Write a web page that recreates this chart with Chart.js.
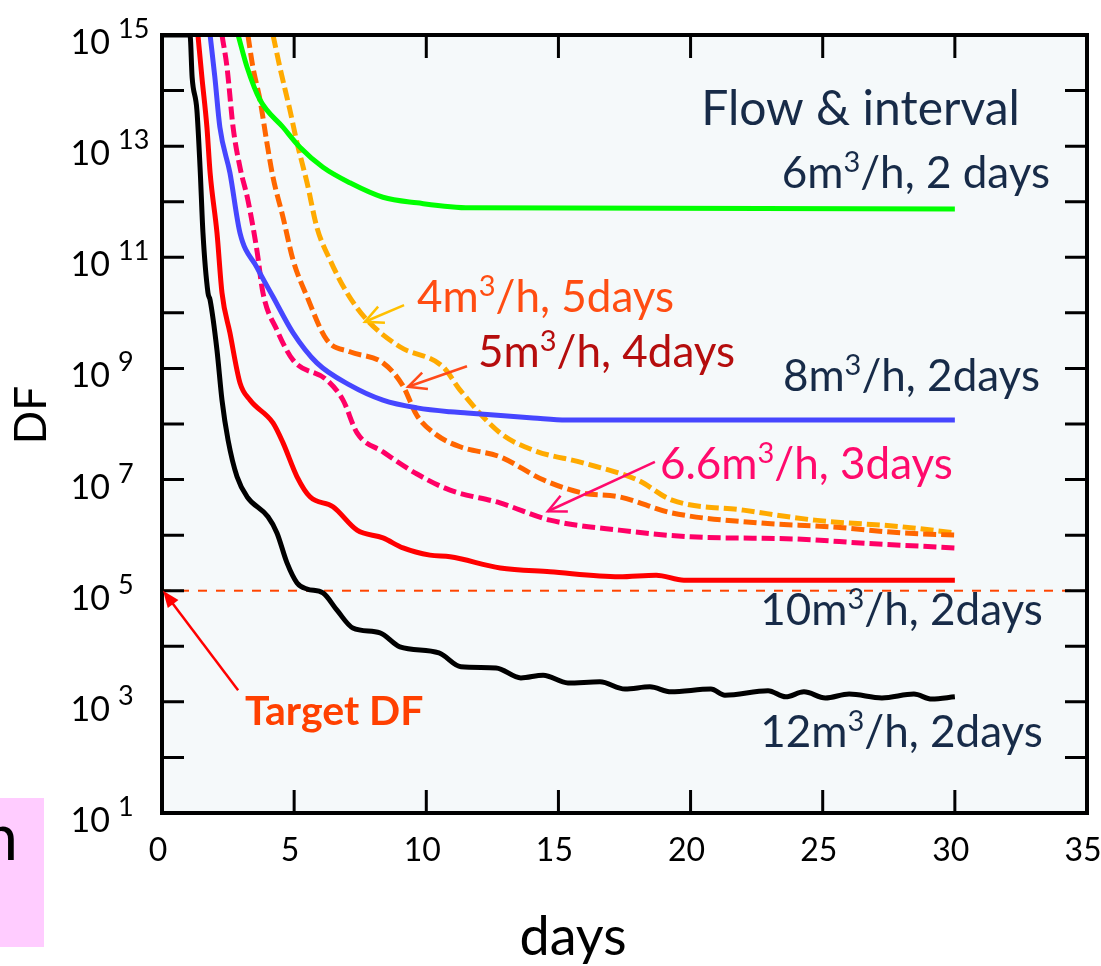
<!DOCTYPE html>
<html>
<head>
<meta charset="utf-8">
<script src="https://cdn.jsdelivr.net/npm/chart.js@4.4.1/dist/chart.umd.min.js"></script>
<style>
  html, body { margin: 0; padding: 0; background: #fff; }
  #wrap { width: 1101px; height: 966px; }
</style>
</head>
<body>
<div id="wrap"><canvas id="dfChart"></canvas></div>
<script>
// curves: days and log10(DF)
const days12 = [0, 1.06, 1.14, 1.32, 1.44, 1.55, 1.74, 1.82, 2.08, 2.27, 2.5, 2.84, 3.22, 4.01, 4.35, 4.73, 5.11, 5.49, 6.09, 6.62, 7.22, 8.25, 9.0, 10.48, 11.31, 12.64, 13.58, 14.42, 15.36, 16.57, 17.52, 18.46, 19.26, 20.77, 21.3, 22.93, 23.6, 24.29, 25.1, 26.0, 27.24, 28.45, 29.13, 30];
const logDF12 = [15, 15, 14.24, 13.65, 12.62, 11.44, 10.36, 10.23, 9.33, 8.43, 7.71, 7.05, 6.69, 6.33, 6.04, 5.5, 5.14, 5.03, 4.96, 4.65, 4.33, 4.24, 3.99, 3.88, 3.63, 3.61, 3.43, 3.48, 3.34, 3.36, 3.23, 3.27, 3.18, 3.23, 3.12, 3.2, 3.09, 3.18, 3.07, 3.14, 3.07, 3.14, 3.05, 3.09];

const days10 = [1.36, 1.51, 1.7, 1.82, 2.08, 2.27, 2.57, 2.95, 3.33, 4.2, 4.58, 5.11, 5.6, 6.47, 7.38, 8.36, 9.12, 10.14, 10.9, 12.8, 14.68, 17.3, 18.7, 19.75, 30];
const logDF10 = [15, 14.24, 13.34, 12.52, 11.44, 10.36, 9.64, 8.74, 8.43, 8.02, 7.66, 7.05, 6.69, 6.51, 6.09, 5.95, 5.77, 5.64, 5.61, 5.41, 5.34, 5.25, 5.28, 5.19, 5.19];

const days8 = [1.82, 2.0, 2.19, 2.57, 2.95, 3.59, 4.2, 4.96, 5.86, 7.11, 8.36, 9.65, 10.9, 11.54, 14.04, 15.3, 30];
const logDF8 = [15, 14.24, 13.34, 12.52, 11.44, 10.82, 10.29, 9.64, 9.1, 8.7, 8.43, 8.29, 8.22, 8.2, 8.11, 8.07, 8.07];

const days6 = [2.88, 3.22, 3.71, 4.58, 5.22, 6.09, 7.11, 8.36, 9.65, 11.65, 30];
const logDF6 = [15, 14.42, 13.83, 13.34, 12.98, 12.62, 12.34, 12.08, 11.98, 11.89, 11.87];

const days66 = [2.27, 2.46, 2.69, 2.95, 3.25, 3.59, 3.82, 4.35, 4.96, 6.24, 6.85, 7.38, 8.36, 9.65, 10.9, 12.79, 14.68, 17.3, 20.0, 24.0, 26.7, 30];
const logDF66 = [15, 14.42, 13.34, 12.62, 12.03, 11.13, 10.36, 9.69, 9.15, 8.79, 8.43, 7.84, 7.5, 7.1, 6.81, 6.58, 6.27, 6.09, 5.97, 5.93, 5.85, 5.77];

const days5 = [3.25, 3.44, 3.71, 3.97, 4.2, 4.58, 4.96, 5.49, 6.24, 7.11, 8.36, 9.1, 9.65, 10.4, 11.28, 12.79, 14.4, 15.9, 17.3, 19.3, 22.6, 25.3, 28.0, 30];
const logDF5 = [15, 14.42, 13.83, 13.06, 12.44, 11.72, 10.95, 10.29, 9.51, 9.3, 9.1, 8.7, 8.15, 7.8, 7.59, 7.41, 7.0, 6.76, 6.69, 6.4, 6.22, 6.15, 6.04, 6.0];

const days4 = [4.2, 4.46, 4.84, 5.11, 5.49, 5.86, 6.36, 7.0, 7.76, 9.0, 10.63, 11.28, 12.79, 14.04, 15.93, 18.0, 19.3, 22.0, 24.7, 28.0, 30];
const logDF4 = [15, 14.42, 13.65, 13.06, 12.34, 11.54, 10.95, 10.36, 9.87, 9.39, 9.03, 8.61, 7.84, 7.53, 7.3, 6.99, 6.63, 6.45, 6.27, 6.15, 6.04];

const targetDays = [0, 35];
const targetLogDF = [5, 5];

// axis ticks
const xTickDays = [0, 5, 10, 15, 20, 25, 30, 35];
const yTickExps = [1, 2, 3, 4, 5, 6, 7, 8, 9, 10, 11, 12, 13, 14, 15];
const yLabelExps = [1, 3, 5, 7, 9, 11, 13, 15];

const FONT = 'Lato, "Open Sans", sans-serif';
const NAVY = '#172b48';

function pts(xs, ys) {
  return xs.map((d, i) => ({ x: d, y: Math.pow(10, ys[i]) }));
}

// text where '^' raises the following character
function richText(ctx, str, x, y, size, color, align, weight) {
  const parts = [];
  for (let i = 0; i < str.length; i++) {
    if (str[i] === '^') { parts.push({ t: str[i + 1], sup: true }); i++; }
    else if (parts.length && !parts[parts.length - 1].sup) parts[parts.length - 1].t += str[i];
    else parts.push({ t: str[i], sup: false });
  }
  const w = weight || 'normal';
  const baseFont = `${w} ${size}px ${FONT}`;
  const supFont = `${w} ${Math.round(size * 0.66)}px ${FONT}`;
  let total = 0;
  parts.forEach(p => { ctx.font = p.sup ? supFont : baseFont; p.w = ctx.measureText(p.t).width; total += p.w; });
  let cx = align === 'right' ? x - total : x;
  ctx.fillStyle = color;
  ctx.textAlign = 'left';
  ctx.textBaseline = 'alphabetic';
  parts.forEach(p => {
    ctx.font = p.sup ? supFont : baseFont;
    ctx.fillText(p.t, cx, p.sup ? y - size * 0.36 : y);
    cx += p.w;
  });
}

function arrow(ctx, x1, y1, x2, y2, color, width, filled) {
  const ang = Math.atan2(y2 - y1, x2 - x1);
  const len = filled ? 18 : 20;
  const spread = filled ? 0.38 : 0.45;
  ctx.strokeStyle = color;
  ctx.fillStyle = color;
  ctx.lineWidth = width;
  ctx.beginPath();
  ctx.moveTo(x1, y1);
  ctx.lineTo(filled ? x2 - Math.cos(ang) * len * 0.8 : x2, filled ? y2 - Math.sin(ang) * len * 0.8 : y2);
  ctx.stroke();
  const ax = x2 - Math.cos(ang - spread) * len, ay = y2 - Math.sin(ang - spread) * len;
  const bx = x2 - Math.cos(ang + spread) * len, by = y2 - Math.sin(ang + spread) * len;
  ctx.beginPath();
  if (filled) {
    ctx.moveTo(x2, y2); ctx.lineTo(ax, ay); ctx.lineTo(bx, by); ctx.closePath(); ctx.fill();
  } else {
    ctx.moveTo(ax, ay); ctx.lineTo(x2, y2); ctx.lineTo(bx, by); ctx.stroke();
  }
}

const figurePlugin = {
  id: 'figure',
  beforeDraw(chart) {
    const { ctx, chartArea: a } = chart;
    ctx.save();
    ctx.fillStyle = '#ffffff';
    ctx.fillRect(0, 0, chart.width, chart.height);
    ctx.fillStyle = '#f5f9fa';
    ctx.fillRect(a.left, a.top, a.right - a.left, a.bottom - a.top);
    // bit of the slide peeking in at the bottom left
    ctx.fillStyle = '#ffccff';
    ctx.fillRect(0, 798, 44, 149);
    ctx.fillStyle = '#000';
    ctx.font = `64px ${FONT}`;
    ctx.textAlign = 'right';
    ctx.textBaseline = 'alphabetic';
    ctx.fillText('n', 18, 860);
    ctx.restore();
  },
  afterDatasetsDraw(chart, args, opts) {
    const { ctx, chartArea: a, scales: { x, y } } = chart;
    const px = d => x.getPixelForValue(d);
    const py = e => y.getPixelForValue(Math.pow(10, e));
    ctx.save();

    // frame and inward ticks
    ctx.strokeStyle = '#000';
    ctx.lineWidth = 3;
    yTickExps.forEach(e => {
      if (e === 1 || e === 15) return;
      const yy = py(e);
      ctx.beginPath();
      ctx.moveTo(a.left, yy); ctx.lineTo(a.left + 22, yy);
      ctx.moveTo(a.right, yy); ctx.lineTo(a.right - 22, yy);
      ctx.stroke();
    });
    xTickDays.forEach(d => {
      if (d === 0 || d === 35) return;
      const xx = px(d);
      ctx.beginPath();
      ctx.moveTo(xx, a.bottom); ctx.lineTo(xx, a.bottom - 23);
      ctx.moveTo(xx, a.top); ctx.lineTo(xx, a.top + 23);
      ctx.stroke();
    });
    ctx.lineWidth = 4;
    ctx.strokeRect(a.left, a.top, a.right - a.left, a.bottom - a.top);

    // y tick labels 10^n
    yLabelExps.forEach(e => {
      const yy = py(e);
      ctx.fillStyle = '#000';
      ctx.textBaseline = 'alphabetic';
      ctx.font = `34px ${FONT}`;
      ctx.textAlign = 'right';
      ctx.fillText('10', a.left - 52, yy + 19);
      ctx.font = `27px ${FONT}`;
      ctx.textAlign = 'left';
      ctx.fillText(String(e), a.left - 44, yy + 3);
    });

    // axis titles
    ctx.fillStyle = '#000';
    ctx.font = `44px ${FONT}`;
    ctx.textAlign = 'center';
    ctx.textBaseline = 'middle';
    ctx.save();
    ctx.translate(32, 415);
    ctx.rotate(-Math.PI / 2);
    ctx.fillText('DF', 0, 0);
    ctx.restore();
    ctx.font = `54px ${FONT}`;
    ctx.textBaseline = 'alphabetic';
    ctx.fillText('days', 573, 955);

    // notes and arrows
    opts.arrows.forEach(r => arrow(ctx, px(r.from[0]), py(r.from[1]), px(r.to[0]), py(r.to[1]), r.color, r.width, r.filled));
    opts.notes.forEach(n => richText(ctx, n.text, px(n.at[0]), py(n.at[1]), n.size, n.color, n.align, n.weight));
    ctx.restore();
  }
};

const solid = (label, xs, ys, color) => ({
  label, data: pts(xs, ys), borderColor: color, borderWidth: 5,
  pointRadius: 0, cubicInterpolationMode: 'monotone', fill: false
});
const dashed = (label, xs, ys, color) => ({
  ...solid(label, xs, ys, color), borderDash: [13, 5]
});

new Chart(document.getElementById('dfChart'), {
  type: 'line',
  data: {
    datasets: [
      solid('12m3/h, 2days', days12, logDF12, '#000000'),
      solid('10m3/h, 2days', days10, logDF10, '#ff0000'),
      solid('8m3/h, 2days', days8, logDF8, '#4646ff'),
      solid('6m3/h, 2 days', days6, logDF6, '#00ff00'),
      dashed('6.6m3/h, 3days', days66, logDF66, '#ff0066'),
      dashed('5m3/h, 4days', days5, logDF5, '#ff6600'),
      dashed('4m3/h, 5days', days4, logDF4, '#ffaa00'),
      {
        label: 'Target DF', data: pts(targetDays, targetLogDF),
        borderColor: '#ff4500', borderWidth: 2, borderDash: [9, 9], pointRadius: 0
      }
    ]
  },
  options: {
    responsive: true,
    maintainAspectRatio: false,
    animation: false,
    layout: { padding: { left: 0, top: 35, right: 14, bottom: 0 } },
    scales: {
      x: {
        type: 'linear', min: 0, max: 35,
        grid: { display: false, drawTicks: false },
        border: { display: false },
        ticks: { stepSize: 5, color: '#000', padding: 18, labelOffset: -4, font: { family: FONT, size: 32 }, maxRotation: 0 },
        afterFit(s) { s.height = 153; s.paddingLeft = 0; s.paddingRight = 0; }
      },
      y: {
        type: 'logarithmic', min: 10, max: 1e15,
        grid: { display: false, drawTicks: false },
        border: { display: false },
        ticks: { display: false },
        afterFit(s) { s.width = 162; s.paddingTop = 0; s.paddingBottom = 0; }
      }
    },
    plugins: {
      legend: { display: false },
      tooltip: { enabled: false },
      figure: {
        notes: [
          { text: 'Flow & interval', at: [32.46, 13.38], size: 48, color: NAVY, align: 'right' },
          { text: '6m^3/h, 2 days', at: [33.6, 12.25], size: 44, color: NAVY, align: 'right' },
          { text: '8m^3/h, 2days', at: [33.22, 8.6], size: 44, color: NAVY, align: 'right' },
          { text: '10m^3/h, 2days', at: [33.33, 4.38], size: 44, color: NAVY, align: 'right' },
          { text: '12m^3/h, 2days', at: [33.33, 2.19], size: 44, color: NAVY, align: 'right' },
          { text: '4m^3/h, 5days', at: [9.65, 10.02], size: 44, color: '#ff4d12', align: 'left' },
          { text: '5m^3/h, 4days', at: [11.96, 9.03], size: 44, color: '#b50d0d', align: 'left' },
          { text: '6.6m^3/h, 3days', at: [18.84, 7.01], size: 44, color: '#ff0a6c', align: 'left' },
          { text: 'Target DF', at: [3.14, 2.58], size: 41, color: '#ff4000', align: 'left', weight: 'bold' }
        ],
        arrows: [
          { from: [9.16, 10.14], to: [7.68, 9.84], color: '#ffc000', width: 2.5 },
          { from: [11.54, 9.04], to: [9.31, 8.67], color: '#ff4a1a', width: 2.5 },
          { from: [18.65, 7.32], to: [14.6, 6.43], color: '#ff0a6c', width: 2.5 },
          { from: [2.88, 3.21], to: [0.04, 5.0], color: '#ff0000', width: 2.5, filled: true }
        ]
      }
    }
  },
  plugins: [figurePlugin]
});
</script>
</body>
</html>
